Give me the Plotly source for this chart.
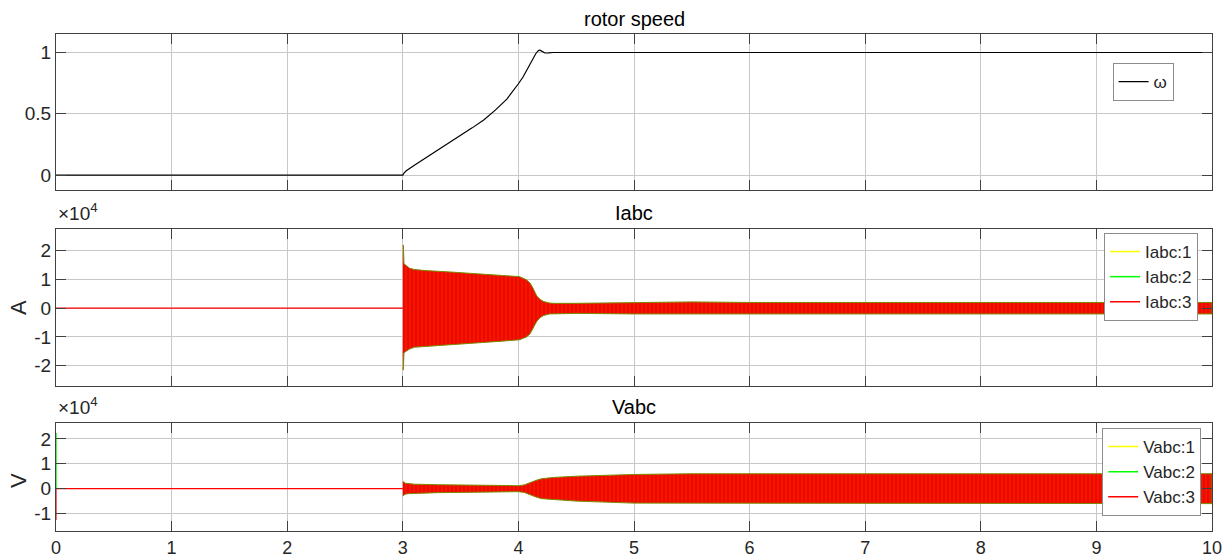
import plotly.graph_objects as go

# ---------------- data ----------------
# rotor speed (pu)
w_t = [0.0, 3.0, 3.01, 3.03, 3.1, 3.2, 3.3, 3.4, 3.5, 3.6, 3.7, 3.8, 3.9, 3.95, 4.0, 4.04,
       4.07, 4.1, 4.13, 4.15, 4.17, 4.18, 4.19, 4.21, 4.23, 4.26, 4.3, 4.4, 5.0, 6.0, 6.5,
       7.0, 8.0, 9.0, 10.0]
w_v = [0.0, 0.0, 0.015, 0.035, 0.08, 0.14, 0.2, 0.26, 0.32, 0.385, 0.45, 0.53, 0.62, 0.68,
       0.745, 0.80, 0.855, 0.91, 0.96, 0.99, 1.013, 1.02, 1.017, 1.003, 0.996, 0.997, 1.0,
       1.0, 1.0, 0.997, 0.996, 0.997, 1.0, 1.0, 1.0]

# Iabc envelope (A)
i_t = [3.0, 3.005, 3.01, 3.03, 3.06, 3.1, 3.2, 3.38, 3.5, 3.67, 3.85, 4.01, 4.07, 4.1,
       4.12, 4.14, 4.16, 4.19, 4.22, 4.27, 4.31, 4.5, 5.0, 5.5, 6.0, 7.0, 8.0, 9.0, 10.0]
i_up = [2.2e4, 2.2e4, 1.55e4, 1.48e4, 1.39e4, 1.35e4, 1.31e4, 1.27e4, 1.24e4, 1.2e4, 1.15e4,
        1.1e4, 0.99e4, 0.88e4, 0.75e4, 0.6e4, 0.42e4, 0.3e4, 0.23e4, 0.18e4, 0.17e4, 0.17e4,
        0.2e4, 0.22e4, 0.2e4, 0.2e4, 0.2e4, 0.2e4, 0.2e4]
i_lo = [-2.15e4, -2.15e4, -1.55e4, -1.5e4, -1.42e4, -1.36e4, -1.31e4, -1.27e4, -1.24e4, -1.2e4,
        -1.15e4, -1.1e4, -1.0e4, -0.9e4, -0.78e4, -0.62e4, -0.45e4, -0.32e4, -0.25e4, -0.2e4,
        -0.18e4, -0.18e4, -0.2e4, -0.22e4, -0.2e4, -0.2e4, -0.2e4, -0.2e4, -0.2e4]
i_pre_t = [0.0, 3.0]
i_pre_v = [0.0, 0.0]

# Vabc envelope (V)
v_t = [3.0, 3.005, 3.02, 3.05, 3.1, 3.3, 3.5, 3.7, 3.9, 4.0, 4.05, 4.1, 4.15, 4.2, 4.3,
       4.5, 5.0, 5.5, 6.0, 7.0, 8.0, 9.0, 10.0]
v_up = [0.28e4, 0.28e4, 0.22e4, 0.2e4, 0.18e4, 0.16e4, 0.15e4, 0.13e4, 0.12e4, 0.12e4, 0.15e4,
        0.25e4, 0.33e4, 0.4e4, 0.45e4, 0.5e4, 0.57e4, 0.6e4, 0.6e4, 0.6e4, 0.6e4, 0.6e4, 0.6e4]
v_lo = [-0.3e4, -0.3e4, -0.22e4, -0.2e4, -0.18e4, -0.16e4, -0.15e4, -0.13e4, -0.12e4, -0.12e4,
        -0.15e4, -0.25e4, -0.33e4, -0.4e4, -0.45e4, -0.5e4, -0.58e4, -0.6e4, -0.6e4, -0.6e4,
        -0.6e4, -0.6e4, -0.6e4]
v_pre_t = [0.0, 0.0, 3.0]
v_pre_v = [-1.26e4, 0.0, 0.0]
v_spike_t = [0.0, 0.0]
v_spike_v = [0.0, 2.24e4]

x_ticks = [0, 1, 2, 3, 4, 5, 6, 7, 8, 9, 10]
w_ticks = [0, 0.5, 1]
i_ticks = [-2e4, -1e4, 0, 1e4, 2e4]
i_ticktext = ["-2", "-1", "0", "1", "2"]
v_ticks = [-1e4, 0, 1e4, 2e4]
v_ticktext = ["-1", "0", "1", "2"]

phase_colors = ["#ffff00", "#00ff00", "#ff0000"]

# ---------------- figure ----------------
FONT = "Liberation Sans, Arial, sans-serif"
AX = "#404040"
GRID = "#c8c8c8"
TICKSIZE = 19
H_PAPER = 497      # plot-area height in px (559 - top 34 - bottom 28)
B_PIX = 531        # pixel row of paper y = 0
fig = go.Figure()

# rotor speed
fig.add_trace(go.Scatter(x=w_t, y=w_v, mode="lines", line=dict(color="black", width=1.2),
                         name="ω", xaxis="x", yaxis="y", legend="legend"))


def band(t, up, lo, xa, ya):
    return go.Scatter(x=t + t[::-1], y=up + lo[::-1], mode="lines", fill="toself",
                      fillcolor="#ff0000",
                      fillpattern=dict(shape="|", bgcolor="#ff0000", fgcolor="#8a7a00",
                                       size=4, solidity=0.25),
                      line=dict(color="#7a8a00", width=1), showlegend=False,
                      hoverinfo="skip", xaxis=xa, yaxis=ya)


# Iabc
fig.add_trace(go.Scatter(x=i_pre_t, y=i_pre_v, mode="lines", line=dict(color="#ff0000", width=1.2),
                         showlegend=False, xaxis="x2", yaxis="y2"))
fig.add_trace(band(i_t, i_up, i_lo, "x2", "y2"))
for k, c in enumerate(phase_colors):
    fig.add_trace(go.Scatter(x=[None], y=[None], mode="lines", line=dict(color=c, width=1.5),
                             name=f"Iabc:{k+1}", xaxis="x2", yaxis="y2", legend="legend2"))

# Vabc
fig.add_trace(go.Scatter(x=v_spike_t, y=v_spike_v, mode="lines", line=dict(color="#00ff00", width=1.5),
                         showlegend=False, xaxis="x3", yaxis="y3"))
fig.add_trace(go.Scatter(x=v_pre_t, y=v_pre_v, mode="lines", line=dict(color="#ff0000", width=1.2),
                         showlegend=False, xaxis="x3", yaxis="y3"))
fig.add_trace(band(v_t, v_up, v_lo, "x3", "y3"))
for k, c in enumerate(phase_colors):
    fig.add_trace(go.Scatter(x=[None], y=[None], mode="lines", line=dict(color=c, width=1.5),
                             name=f"Vabc:{k+1}", xaxis="x3", yaxis="y3", legend="legend3"))

common_x = dict(range=[0, 10], tickvals=x_ticks, showgrid=True, gridcolor=GRID, gridwidth=1,
                zeroline=False, showline=True, linecolor=AX, linewidth=1, mirror="allticks",
                ticks="inside", ticklen=10, tickcolor=AX, automargin=False,
                tickfont=dict(family=FONT, size=18, color="#262626"))
common_y = dict(showgrid=True, gridcolor=GRID, gridwidth=1, zeroline=False, showline=True,
                linecolor=AX, linewidth=1, mirror="allticks", ticks="inside", ticklen=10,
                tickcolor=AX, automargin=False,
                tickfont=dict(family=FONT, size=TICKSIZE, color="#262626"))

legend_common = dict(bgcolor="white", bordercolor="#8c8c8c", borderwidth=1,
                     font=dict(family=FONT, size=17, color="#262626"),
                     xanchor="left", yanchor="top", tracegroupgap=0)


def py(pix):
    return (B_PIX - pix) / H_PAPER


fig.update_layout(
    width=1231, height=559,
    margin=dict(l=56, r=19, t=34, b=28, autoexpand=False),
    paper_bgcolor="white", plot_bgcolor="white",
    xaxis=dict(common_x, domain=[0, 1], anchor="y", showticklabels=False),
    yaxis=dict(common_y, domain=[py(190), 1.0], anchor="x", range=[-0.122, 1.151], tickvals=w_ticks,
               ticktext=["0", "0.5", "1"]),
    xaxis2=dict(common_x, domain=[0, 1], anchor="y2", showticklabels=False),
    yaxis2=dict(common_y, domain=[py(385.7), py(229)], anchor="x2", range=[-2.7e4, 2.76e4],
                tickvals=i_ticks, ticktext=i_ticktext),
    xaxis3=dict(common_x, domain=[0, 1], anchor="y3", showticklabels=True),
    yaxis3=dict(common_y, domain=[0.0, py(422.7)], anchor="x3", range=[-1.7e4, 2.65e4],
                tickvals=v_ticks, ticktext=v_ticktext),
    legend=dict(legend_common, x=0.914, y=py(63)),
    legend2=dict(legend_common, x=0.9066, y=py(233)),
    legend3=dict(legend_common, x=0.905, y=py(428)),
    showlegend=True,
)

titles = [("rotor speed", 19), ("Iabc", 213), ("Vabc", 407)]
for txt, ypix in titles:
    fig.add_annotation(text=txt, xref="paper", yref="paper", x=0.5, y=py(ypix),
                       xanchor="center", yanchor="middle", showarrow=False,
                       font=dict(family=FONT, size=20, color="black"))
for ypix in (212, 406):
    fig.add_annotation(text="×10<sup>4</sup>", xref="paper", yref="paper", x=0.0, y=py(ypix),
                       xanchor="left", yanchor="middle", showarrow=False,
                       font=dict(family=FONT, size=19, color="#262626"))
# y-axis unit labels (rotated)
for txt, ypix in (("A", 308), ("V", 481)):
    fig.add_annotation(text=txt, xref="paper", yref="paper", x=-38 / 1156, y=py(ypix),
                       xanchor="center", yanchor="middle", showarrow=False, textangle=-90,
                       font=dict(family=FONT, size=22, color="#262626"))

fig.write_html("out.html")
